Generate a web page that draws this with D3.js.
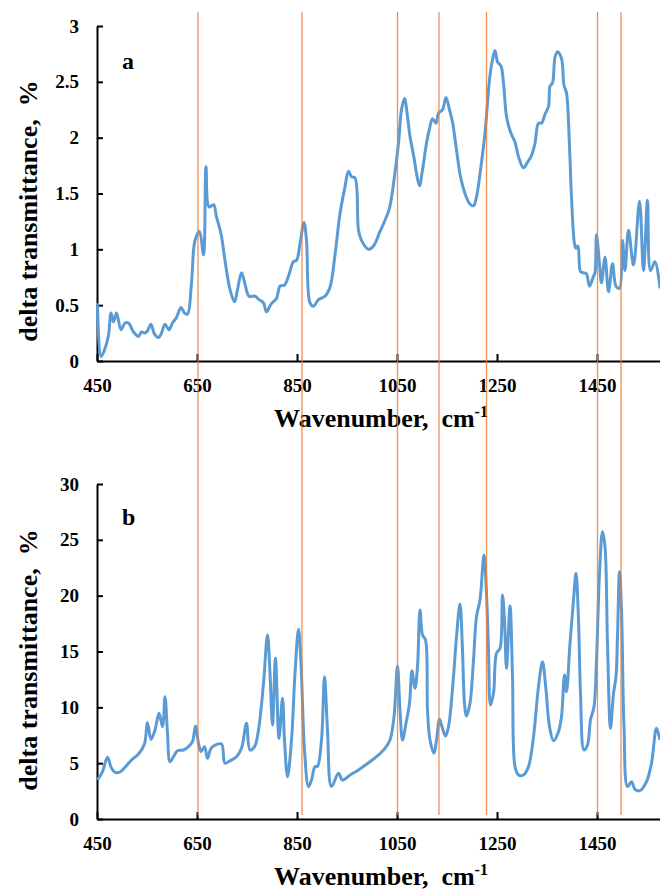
<!DOCTYPE html>
<html>

<script src="https://cdn.jsdelivr.net/npm/d3@7/dist/d3.min.js"></script>

<style>

  body, html {
    padding: 0;
    margin: 0;
    background: #fff;
  }

  svg {
    display: block;
    font-family: "Liberation Serif", "Times New Roman", serif;
    font-weight: bold;
  }

  .title {
    white-space: pre;
  }

</style>

<body>
  <svg width="660" height="890"></svg>

  <script>

    // spectrum a (wavenumber, cm-1 / delta transmittance, %)
    var waveA = [451, 458, 465, 473, 478, 483, 489, 498, 506, 513, 523, 533, 539, 546, 551, 558, 565, 573, 579, 586,
      594, 601, 609, 618, 625, 631, 639, 646, 655, 663, 668, 674, 683, 689, 698, 707, 716, 725, 731, 739,
      747, 754, 766, 774, 783, 789, 798, 809, 816, 825, 833, 843, 849, 856, 864, 869, 876, 883, 893, 906,
      916, 926, 936, 946, 953, 959, 966, 973, 979, 993, 1003, 1016, 1026, 1035, 1044, 1053, 1059, 1065, 1071, 1076,
      1084, 1089, 1095, 1101, 1109, 1115, 1121, 1128, 1133, 1141, 1148, 1155, 1161, 1169, 1177, 1186, 1195, 1203, 1209, 1217,
      1226, 1235, 1241, 1246, 1251, 1258, 1263, 1269, 1277, 1286, 1293, 1303, 1311, 1319, 1326, 1333, 1339, 1346, 1353, 1356,
      1361, 1366, 1371, 1379, 1384, 1389, 1395, 1399, 1405, 1408, 1412, 1417, 1423, 1429, 1435, 1443, 1446, 1449, 1455, 1459,
      1466, 1473, 1481, 1488, 1495, 1501, 1506, 1513, 1523, 1535, 1543, 1551, 1557, 1566, 1576];
    var transA = [0.52, 0.04, 0.10, 0.23, 0.43, 0.35, 0.43, 0.28, 0.34, 0.34, 0.26, 0.22, 0.26, 0.25, 0.27, 0.33, 0.24, 0.21, 0.25, 0.33,
      0.28, 0.34, 0.39, 0.48, 0.43, 0.42, 0.70, 1.08, 1.16, 0.95, 1.74, 1.38, 1.40, 1.29, 1.14, 0.87, 0.64, 0.53, 0.64, 0.79,
      0.67, 0.58, 0.58, 0.55, 0.52, 0.44, 0.51, 0.56, 0.67, 0.68, 0.76, 0.89, 0.90, 1.05, 1.24, 1.08, 0.52, 0.49, 0.55, 0.58,
      0.66, 0.95, 1.32, 1.56, 1.70, 1.65, 1.64, 1.17, 1.08, 1.00, 1.03, 1.16, 1.26, 1.37, 1.62, 1.95, 2.25, 2.35, 2.19, 2.01,
      1.82, 1.68, 1.57, 1.71, 1.95, 2.08, 2.17, 2.13, 2.22, 2.25, 2.36, 2.25, 2.14, 1.89, 1.65, 1.50, 1.41, 1.39, 1.47, 1.71,
      2.04, 2.52, 2.70, 2.78, 2.68, 2.64, 2.49, 2.19, 2.05, 1.96, 1.83, 1.73, 1.78, 1.84, 1.95, 2.13, 2.13, 2.21, 2.28, 2.46,
      2.49, 2.72, 2.77, 2.71, 2.47, 2.40, 1.92, 1.47, 1.05, 1.01, 1.03, 0.80, 0.79, 0.78, 0.67, 0.76, 0.79, 1.13, 0.87, 0.70,
      0.93, 0.62, 0.87, 0.67, 0.65, 1.08, 0.81, 1.17, 0.86, 1.43, 0.81, 1.44, 0.81, 0.89, 0.65];

    // spectrum b
    var waveB = [451, 461, 471, 479, 487, 496, 506, 519, 533, 545, 551, 558, 566, 574, 581, 586, 591, 596, 603, 611,
      623, 633, 641, 647, 653, 658, 665, 671, 678, 687, 699, 706, 716, 729, 739, 749, 756, 765, 773, 783,
      791, 796, 801, 807, 814, 821, 825, 831, 839, 846, 853, 858, 865, 873, 879, 886, 891, 899, 905, 911,
      919, 933, 941, 956, 973, 993, 1009, 1026, 1036, 1044, 1051, 1056, 1061, 1068, 1075, 1080, 1086, 1091, 1096, 1101,
      1107, 1111, 1116, 1124, 1129, 1135, 1140, 1147, 1153, 1163, 1169, 1176, 1181, 1185, 1189, 1196, 1203, 1209, 1216, 1224,
      1229, 1233, 1237, 1243, 1249, 1256, 1261, 1265, 1269, 1276, 1281, 1286, 1293, 1303, 1313, 1323, 1333, 1341, 1348, 1355,
      1363, 1373, 1379, 1385, 1389, 1396, 1403, 1408, 1413, 1417, 1424, 1431, 1437, 1444, 1449, 1455, 1461, 1466, 1471, 1477,
      1483, 1488, 1491, 1495, 1499, 1504, 1511, 1519, 1526, 1536, 1549, 1559, 1569, 1576];
    var transB = [3.5, 4.24, 5.52, 4.54, 4.15, 4.21, 4.63, 5.28, 5.82, 6.72, 8.63, 7.13, 7.97, 9.46, 8.27, 10.95, 7.67, 5.13, 5.58, 6.12,
      6.18, 6.48, 6.93, 8.33, 6.78, 6.03, 6.48, 5.43, 6.33, 6.63, 6.72, 4.99, 5.22, 5.58, 6.33, 8.57, 6.18, 6.48, 7.97, 12.15,
      16.48, 13.05, 8.42, 14.39, 7.22, 10.81, 7.07, 3.79, 7.07, 13.05, 16.99, 13.94, 6.18, 2.90, 3.49, 4.69, 4.72, 7.07, 12.75, 7.97,
      2.90, 4.09, 3.49, 3.94, 4.39, 5.04, 5.58, 6.33, 7.07, 9.16, 13.70, 9.76, 7.07, 8.57, 10.36, 13.28, 11.70, 13.64, 18.72, 16.48,
      16.03, 9.76, 7.07, 5.88, 7.07, 8.93, 8.27, 7.43, 8.27, 12.75, 16.33, 19.25, 15.13, 10.36, 9.22, 10.36, 14.24, 18.12, 19.61, 23.64,
      20.21, 15.13, 10.21, 11.25, 14.84, 15.28, 20.06, 17.82, 13.49, 19.07, 12.75, 4.69, 3.94, 3.94, 4.69, 7.37, 11.85, 14.09, 11.55, 8.27,
      7.01, 7.82, 9.16, 12.90, 11.40, 15.73, 19.61, 22.00, 17.82, 11.25, 6.18, 6.63, 8.87, 10.06, 14.24, 22.00, 25.73, 24.39, 15.73, 8.12,
      11.25, 12.75, 16.33, 22.15, 18.72, 8.27, 2.90, 3.34, 2.66, 2.54, 3.34, 4.99, 8.12, 7.07];

    // marker wavenumbers (orange vertical lines through both panels)
    var markerWaves = [652, 860, 1051, 1134, 1229, 1451, 1498];

    var xTicks = [450, 650, 850, 1050, 1250, 1450];
    var yTicksA = [0, 0.5, 1, 1.5, 2, 2.5, 3];
    var yTicksB = [0, 5, 10, 15, 20, 25, 30];

    var svg = d3.select('svg');

    var x = d3.scaleLinear().domain([450, 1576]).range([97, 660]);

    var panels = [
      {label: 'a', wave: waveA, val: transA, ticks: yTicksA, max: 3, top: 26, bottom: 361, titleY: 211},
      {label: 'b', wave: waveB, val: transB, ticks: yTicksB, max: 30, top: 484, bottom: 819, titleY: 660}
    ];

    panels.forEach(function (p) {
      var y = d3.scaleLinear().domain([0, p.max]).range([p.bottom, p.top]);
      var g = svg.append('g');

      // axes, ticks pointing into the plot
      var xAxis = d3.axisBottom(x).tickValues(xTicks).tickFormat(d3.format('d'))
        .tickSizeInner(-7).tickSizeOuter(0).tickPadding(18);
      var yAxis = d3.axisLeft(y).tickValues(p.ticks).tickFormat(function (d) { return String(d); })
        .tickSizeInner(-6).tickSizeOuter(0).tickPadding(18);

      g.append('g')
        .attr('transform', 'translate(0,' + p.bottom + ')')
        .call(xAxis);
      g.append('g')
        .attr('transform', 'translate(' + x(450) + ',0)')
        .call(yAxis);

      g.selectAll('.domain').attr('stroke', '#000').attr('stroke-width', 2);
      g.selectAll('.tick line').attr('stroke', '#000').attr('stroke-width', 2);
      g.selectAll('.tick text')
        .attr('fill', '#000')
        .style('font-size', '19px')
        .style('font-family', '"Liberation Serif", serif')
        .style('font-weight', 'bold');

      // spectrum line
      var pts = p.wave.map(function (w, i) { return [w, p.val[i]]; });
      var line = d3.line()
        .x(function (d) { return x(d[0]); })
        .y(function (d) { return y(d[1]); })
        .curve(d3.curveCatmullRom.alpha(0.5));

      g.append('path')
        .datum(pts)
        .attr('fill', 'none')
        .attr('stroke', '#5B9BD5')
        .attr('stroke-width', 3)
        .attr('stroke-linejoin', 'round')
        .attr('d', line);

      // panel letter
      g.append('text')
        .attr('x', 122)
        .attr('y', p.top + (p.label == 'a' ? 43 : 41))
        .style('font-size', '24px')
        .text(p.label);

      // axis titles
      g.append('text')
        .attr('class', 'title')
        .attr('transform', 'translate(37,' + p.titleY + ') rotate(-90)')
        .attr('text-anchor', 'middle')
        .style('font-size', '26px')
        .text('delta transmittance,  %');

      var xt = g.append('text')
        .attr('class', 'title')
        .attr('x', 381)
        .attr('y', p.bottom + 66)
        .attr('text-anchor', 'middle')
        .style('font-size', '26px');
      xt.append('tspan').text('Wavenumber,  cm');
      xt.append('tspan').attr('dy', -10).style('font-size', '16px').text('-1');
    });

    // orange marker lines spanning both panels
    svg.append('g').selectAll('line')
      .data(markerWaves)
      .enter()
      .append('line')
        .attr('x1', function (d) { return x(d); })
        .attr('x2', function (d) { return x(d); })
        .attr('y1', 12)
        .attr('y2', 815)
        .attr('stroke', '#ED7D31')
        .attr('stroke-opacity', 0.85)
        .attr('stroke-width', 1.3);

  </script>
</body>
</html>
